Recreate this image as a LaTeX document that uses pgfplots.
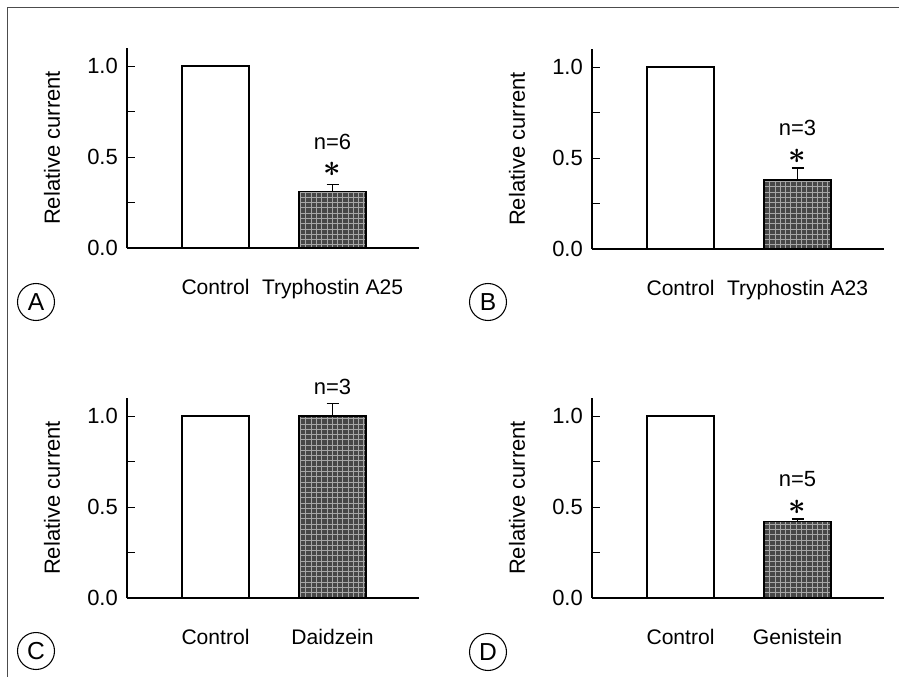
\documentclass[border=0pt]{standalone}
\usepackage{fontspec}
\setmainfont{Liberation Sans}
\usepackage{pgfplots}
\pgfplotsset{compat=1.18}
\usetikzlibrary{patterns}

\tikzset{note/.style={inner sep=0pt}}
\newcommand{\sig}{{\LARGE\boldmath$\ast$}}

\pgfplotsset{
  panel/.style={
    scale only axis, width=5.84cm, height=4cm,
    anchor=south west,
    xmin=0.2436, xmax=2.739, ymin=0, ymax=1.1,
    axis x line*=bottom, axis y line*=left,
    axis line style={-, line width=0.6pt},
    ybar, bar width=1.34cm, bar shift=0pt,
    tick align=inside, major tick length=0.16cm, minor tick length=0.16cm,
    tick style={line width=0.6pt, black},
    xtick={1,2}, xtick style={draw=none},
    xticklabel style={anchor=base, yshift=-0.92cm, font=\fontsize{12}{14}\selectfont},
    ytick={0,0.5,1}, minor ytick={0.25,0.75},
    yticklabel style={xshift=-0.06cm},
    /pgf/number format/fixed, /pgf/number format/fixed zerofill,
    /pgf/number format/precision=1, /pgf/number format/assume math mode=true,
    ylabel={Relative current},
    ylabel style={at={(axis description cs:-0.257,0.5)}, anchor=center},
    clip=false,
    error bars/y dir=plus, error bars/y explicit,
    error bars/error bar style={line width=0.8pt, black},
    error bars/error mark options={rotate=90, mark size=0.12cm, line width=0.8pt, black},
    font=\fontsize{12.5}{15}\selectfont,
  },
  ctrl/.style={draw=black, fill=white, line width=0.8pt},
  drug/.style={draw=black, line width=0.8pt, fill=black!72,
    postaction={pattern=grid, pattern color=black!35}},
}

\begin{document}
\begin{tikzpicture}
\useasboundingbox (0,0) rectangle (17.98,-13.54);
\draw[line width=0.5pt, black!70] (0.14,-13.54) -- (0.14,-0.14) -- (17.98,-0.14);

% A
\begin{axis}[panel, at={(2.54cm,-4.96cm)}, xticklabels={Control, Tryphostin A25}]
\addplot[ctrl] coordinates {(1,1.0)};
\addplot[drug] coordinates {(2,0.31) +- (0,0.04)};
\node[note] at (axis cs:2,0.585) {n=6};
\node[note] at (axis cs:2,0.43) {\sig};
\end{axis}

% B
\begin{axis}[panel, at={(11.84cm,-4.98cm)}, xticklabels={Control, Tryphostin A23}]
\addplot[ctrl] coordinates {(1,1.0)};
\addplot[drug] coordinates {(2,0.38) +- (0,0.065)};
\node[note] at (axis cs:2,0.665) {n=3};
\node[note] at (axis cs:2,0.51) {\sig};
\end{axis}

% C
\begin{axis}[panel, at={(2.54cm,-11.96cm)}, xticklabels={Control, Daidzein}]
\addplot[ctrl] coordinates {(1,1.0)};
\addplot[drug] coordinates {(2,1.0) +- (0,0.07)};
\node[note] at (axis cs:2,1.16) {n=3};
\end{axis}

% D
\begin{axis}[panel, at={(11.84cm,-11.96cm)}, xticklabels={Control, Genistein}]
\addplot[ctrl] coordinates {(1,1.0)};
\addplot[drug] coordinates {(2,0.42) +- (0,0.015)};
\node[note] at (axis cs:2,0.655) {n=5};
\node[note] at (axis cs:2,0.50) {\sig};
\end{axis}

\foreach \lab/\px/\py in {A/0.72/-6.04, B/9.76/-6.04, C/0.72/-13.02, D/9.76/-13.04}
  \node[circle, draw, line width=0.6pt, minimum size=0.74cm, inner sep=0pt,
        font=\fontsize{14}{16}\selectfont] at (\px,\py) {\lab};
\end{tikzpicture}
\end{document}
